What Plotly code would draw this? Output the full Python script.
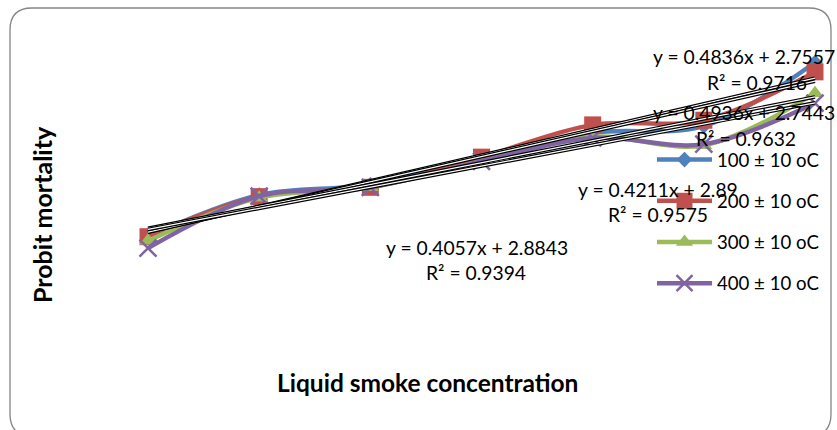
import plotly.graph_objects as go

# ---- data ----
x_vals = [1, 2, 3, 4, 5, 6, 7]
series_names = ["100 ± 10 oC", "200 ± 10 oC", "300 ± 10 oC", "400 ± 10 oC"]
s100 = [3.15, 3.95, 4.15, 4.65, 5.15, 5.28, 6.50]
s200 = [3.15, 3.92, 4.10, 4.68, 5.30, 5.39, 6.32]
s300 = [3.07, 3.90, 4.10, 4.60, 5.07, 4.91, 5.91]
s400 = [2.93, 3.93, 4.10, 4.60, 5.05, 4.93, 5.72]
series_values = [s100, s200, s300, s400]

# trendline coefficients (from the equation labels)
trend_slopes = [0.4936, 0.4836, 0.4211, 0.4057]
trend_intercepts = [2.7443, 2.7557, 2.89, 2.8843]
trend_r2 = [0.9632, 0.9716, 0.9575, 0.9394]

colors = ["#4F81BD", "#C0504D", "#9BBB59", "#8064A2"]
symbols = ["diamond", "square", "triangle-up", "x-thin"]
msizes = [12, 17, 15, 17]

W, H = 837, 430
ML, MR, MT, MB = 90, 10, 10, 70
PW, PH = W - ML - MR, H - MT - MB


def px2x(px):
    return (px - ML) / PW


def py2y(py):
    return (H - MB - py) / PH


FONT = "Lato"

fig = go.Figure()

for name, vals, c, sym, ms in zip(series_names, series_values, colors, symbols, msizes):
    marker = dict(symbol=sym, size=ms, color=c)
    if sym == "x-thin":
        marker["line"] = dict(color=c, width=2.5)
    fig.add_trace(go.Scatter(
        x=x_vals, y=vals, name=name, legendgroup=name,
        mode="lines+markers",
        line=dict(color=c, width=4.5, shape="spline", smoothing=1.0),
        marker=marker,
    ))

xt = [x_vals[0], x_vals[-1]]
for a, b in zip(trend_slopes, trend_intercepts):
    yt = [a * xv + b for xv in xt]
    fig.add_trace(go.Scatter(x=xt, y=yt, mode="lines", showlegend=False,
                             line=dict(color="black", width=3.6), hoverinfo="skip"))
    fig.add_trace(go.Scatter(x=xt, y=yt, mode="lines", showlegend=False,
                             line=dict(color="white", width=1.2), hoverinfo="skip"))

# equation labels (positions in pixels)
label_pos = [
    (744, 113, 746, 138),   # 0.4936
    (744, 57, 757, 83),     # 0.4836
    (658, 190, 658, 215),   # 0.4211
    (477, 248, 476, 272),   # 0.4057
]
ann = []
for a, b, r2, (ex, ey, rx, ry) in zip(trend_slopes, trend_intercepts, trend_r2, label_pos):
    bs = ("%g" % b)
    ann.append(dict(x=px2x(ex), y=py2y(ey), xref="paper", yref="paper",
                    text="y = %.4fx + %s" % (a, bs), showarrow=False,
                    font=dict(family=FONT, size=19.3, color="black"), xanchor="center", yanchor="middle"))
    ann.append(dict(x=px2x(rx), y=py2y(ry), xref="paper", yref="paper",
                    text="R² = %.4f" % r2, showarrow=False,
                    font=dict(family=FONT, size=19.3, color="black"), xanchor="center", yanchor="middle"))

ann.append(dict(x=px2x(42), y=py2y(215), xref="paper", yref="paper", text="<b>Probit mortality</b>",
                showarrow=False, textangle=-90, font=dict(family=FONT, size=25, color="black"),
                xanchor="center", yanchor="middle"))
ann.append(dict(x=px2x(427), y=py2y(383), xref="paper", yref="paper", text="<b>Liquid smoke concentration</b>",
                showarrow=False, font=dict(family=FONT, size=24.5, color="black"),
                xanchor="center", yanchor="middle"))

# rounded chart-area border
x0, y0, x1, y1, r = 10, 8, 831, 436, 22
path = (f"M {px2x(x0 + r)},{py2y(y0)} L {px2x(x1 - r)},{py2y(y0)} "
        f"Q {px2x(x1)},{py2y(y0)} {px2x(x1)},{py2y(y0 + r)} "
        f"L {px2x(x1)},{py2y(y1 - r)} Q {px2x(x1)},{py2y(y1)} {px2x(x1 - r)},{py2y(y1)} "
        f"L {px2x(x0 + r)},{py2y(y1)} Q {px2x(x0)},{py2y(y1)} {px2x(x0)},{py2y(y1 - r)} "
        f"L {px2x(x0)},{py2y(y0 + r)} Q {px2x(x0)},{py2y(y0)} {px2x(x0 + r)},{py2y(y0)} Z")

fig.update_layout(
    width=W, height=H,
    margin=dict(l=ML, r=MR, t=MT, b=MB, autoexpand=False),
    paper_bgcolor="white", plot_bgcolor="white",
    shapes=[dict(type="path", path=path, xref="paper", yref="paper",
                 line=dict(color="#868686", width=1.3), layer="below")],
    annotations=ann,
    showlegend=True,
    legend=dict(x=px2x(652), y=py2y(141), xanchor="left", yanchor="top",
                font=dict(family=FONT, size=18.6, color="black"),
                traceorder="grouped", tracegroupgap=14, itemwidth=55,
                bgcolor="rgba(0,0,0,0)"),
    xaxis=dict(range=[1 + (ML - 148) / 111.17, 7 + (W - MR - 815) / 111.17],
               visible=False, showgrid=False, zeroline=False),
    yaxis=dict(range=[(400.5 - (H - MB)) / 52, (400.5 - MT) / 52],
               visible=False, showgrid=False, zeroline=False),
)

fig.write_html("out.html", config={"displayModeBar": False},
               post_script="document.body.style.margin='0px';document.body.style.overflow='hidden';")
